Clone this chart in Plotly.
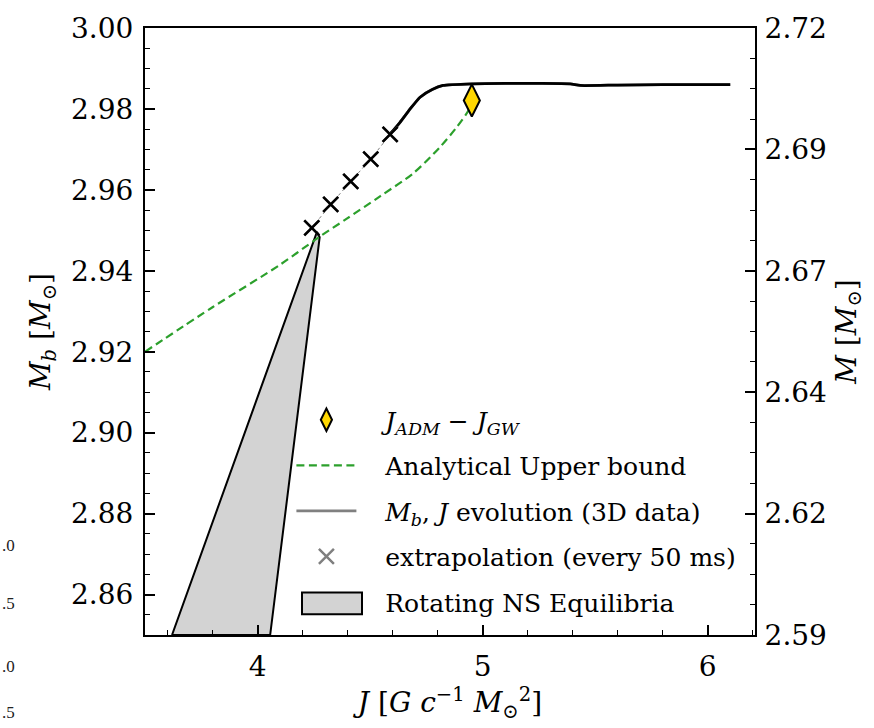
import plotly.graph_objects as go

# ---- data ----
evo_J  = [4.589, 4.633, 4.678, 4.722, 4.776, 4.824, 4.958, 5.100, 5.250, 5.389, 5.433, 5.600, 5.800, 6.000, 6.100]
evo_Mb = [2.9738, 2.9767, 2.9800, 2.9829, 2.9848, 2.9858, 2.9862, 2.9863, 2.9863, 2.9862, 2.9858, 2.9859, 2.9860, 2.9860, 2.9860]

extrap_J  = [4.241, 4.325, 4.414, 4.503, 4.589]
extrap_Mb = [2.9506, 2.9564, 2.9621, 2.9676, 2.9737]

bound_J  = [3.50, 3.80, 4.10, 4.27, 4.40, 4.544, 4.692, 4.811, 4.885, 4.937, 4.952]
bound_Mb = [2.9200, 2.9310, 2.9415, 2.9482, 2.9530, 2.9584, 2.9641, 2.9706, 2.9755, 2.9796, 2.9815]

adm_J  = [4.952]
adm_Mb = [2.9821]

eq_J  = [3.620, 4.264, 4.276, 4.056, 3.620]
eq_Mb = [2.8500, 2.9496, 2.9483, 2.8500, 2.8500]

xticks = [4, 5, 6]
yticks = [2.86, 2.88, 2.90, 2.92, 2.94, 2.96, 2.98, 3.00]
y2_tickvals = [2.59, 2.616, 2.642, 2.668, 2.694, 2.72]
y2_ticktext = ["2.59", "2.62", "2.64", "2.67", "2.69", "2.72"]
stray_labels = [".0", ".5", ".0", ".5"]

FONT = "DejaVu Serif"
GREEN = "#2ca02c"
FILL = "#d3d3d3"
PAD = "\u00a0\u00a0\u00a0"

# plot area in pixels (for paper-coordinate conversions)
L, R, T, B = 145, 755, 20, 635
PW, PH = R - L, B - T

fig = go.Figure()

fig.add_trace(go.Scatter(x=eq_J, y=eq_Mb, mode="lines", fill="toself",
                         fillcolor=FILL, line=dict(color="black", width=2),
                         showlegend=False))
# legend entry for the equilibria region (its wide symbol is drawn as a shape below)
fig.add_trace(go.Bar(x=[None], y=[None],
                     marker=dict(color="rgba(0,0,0,0)", line=dict(color="rgba(0,0,0,0)", width=0)),
                     name=PAD + "Rotating NS Equilibria", legendrank=5, legendgroup="g5"))
fig.add_trace(go.Scatter(x=bound_J, y=bound_Mb, mode="lines",
                         line=dict(color=GREEN, width=2.2, dash="8px,4.5px", shape="spline", smoothing=0.8),
                         name=PAD + "Analytical Upper bound", legendrank=2, legendgroup="g2"))
fig.add_trace(go.Scatter(x=evo_J, y=evo_Mb, mode="lines",
                         line=dict(color="gray", width=2.8, shape="spline", smoothing=0.5),
                         name=PAD + "<i>M</i><sub><i>b</i></sub>, <i>J</i> evolution (3D data)",
                         legendrank=3, legendgroup="g3"))
fig.add_trace(go.Scatter(x=evo_J, y=evo_Mb, mode="lines",
                         line=dict(color="black", width=2.8, shape="spline", smoothing=0.5),
                         showlegend=False))
fig.add_trace(go.Scatter(x=extrap_J, y=extrap_Mb, mode="lines",
                         line=dict(color="gray", width=1, dash="dot"), showlegend=False))
fig.add_trace(go.Scatter(x=extrap_J, y=extrap_Mb, mode="markers",
                         marker=dict(symbol="x-thin", size=15, color="gray",
                                     line=dict(color="gray", width=2.5)),
                         name=PAD + "extrapolation (every 50 ms)", legendrank=4, legendgroup="g4"))
fig.add_trace(go.Scatter(x=extrap_J, y=extrap_Mb, mode="markers",
                         marker=dict(symbol="x-thin", size=15, color="black",
                                     line=dict(color="black", width=2.5)),
                         showlegend=False))
fig.add_trace(go.Scatter(x=adm_J, y=adm_Mb, mode="markers",
                         marker=dict(symbol="diamond-tall", size=23, color="#ffd700",
                                     line=dict(color="black", width=2)),
                         name=PAD + "<i>J</i><sub><i>ADM</i></sub> − <i>J</i><sub><i>GW</i></sub>",
                         legendrank=1, legendgroup="g1"))
fig.add_trace(go.Scatter(x=[None], y=[None], yaxis="y2", showlegend=False))

axis_common = dict(showline=True, linecolor="black", linewidth=2, ticks="inside",
                   ticklen=10, tickwidth=1.5, tickcolor="black", showgrid=False,
                   zeroline=False, tickfont=dict(family=FONT, size=28, color="black"))

fig.update_layout(
    width=874, height=728,
    margin=dict(l=L, r=874 - R, t=T, b=728 - B),
    plot_bgcolor="white", paper_bgcolor="white",
    font=dict(family=FONT, color="black"),
    xaxis=dict(range=[3.5, 6.21], tickvals=xticks, mirror=True,
               minor=dict(dtick=0.2, tick0=3.4, ticks="inside", ticklen=5, tickwidth=1.2, tickcolor="black"),
               title=dict(text="<i>J</i> [<i>G c</i><sup>−1</sup> <i>M</i><sub>⊙</sub><sup>2</sup>]",
                          font=dict(family=FONT, size=28), standoff=4),
               ticklabelstandoff=5, **axis_common),
    yaxis=dict(range=[2.85, 3.00], tickvals=yticks, tickformat=".2f",
               minor=dict(dtick=0.005, tick0=2.85, ticks="inside", ticklen=5, tickwidth=1.2, tickcolor="black"),
               title=dict(text="<i>M</i><sub><i>b</i></sub> [<i>M</i><sub>⊙</sub>]",
                          font=dict(family=FONT, size=28), standoff=12),
               ticklabelstandoff=4, **axis_common),
    yaxis2=dict(range=[2.59, 2.72], overlaying="y", side="right",
                tickvals=y2_tickvals, ticktext=y2_ticktext,
                minor=dict(dtick=0.0065, tick0=2.59, ticks="inside", ticklen=5, tickwidth=1.2, tickcolor="black"),
                title=dict(text="<i>M</i> [<i>M</i><sub>⊙</sub>]",
                           font=dict(family=FONT, size=28), standoff=10),
                ticklabelstandoff=2, **axis_common),
    showlegend=True,
    legend=dict(x=0.24, y=0.392, xanchor="left", yanchor="top",
                bgcolor="rgba(0,0,0,0)", borderwidth=0,
                font=dict(family=FONT, size=25, color="black"),
                itemwidth=60, traceorder="grouped", tracegroupgap=10),
)

# wide patch symbol for the "Rotating NS Equilibria" legend entry
fig.add_shape(type="rect", xref="paper", yref="paper",
              x0=(302 - L) / PW, x1=(362 - L) / PW,
              y0=(B - 614) / PH, y1=(B - 592) / PH,
              fillcolor=FILL, line=dict(color="black", width=2), layer="above")

stray_y = [544, 603, 667, 714]
for lab, py in zip(stray_labels, stray_y):
    fig.add_annotation(text=lab, xref="paper", yref="paper",
                       x=-L / PW, y=(B - py) / PH, xanchor="left", yanchor="middle",
                       showarrow=False, font=dict(family="Liberation Serif", size=17, color="#222"))

fig.write_html("out.html")
